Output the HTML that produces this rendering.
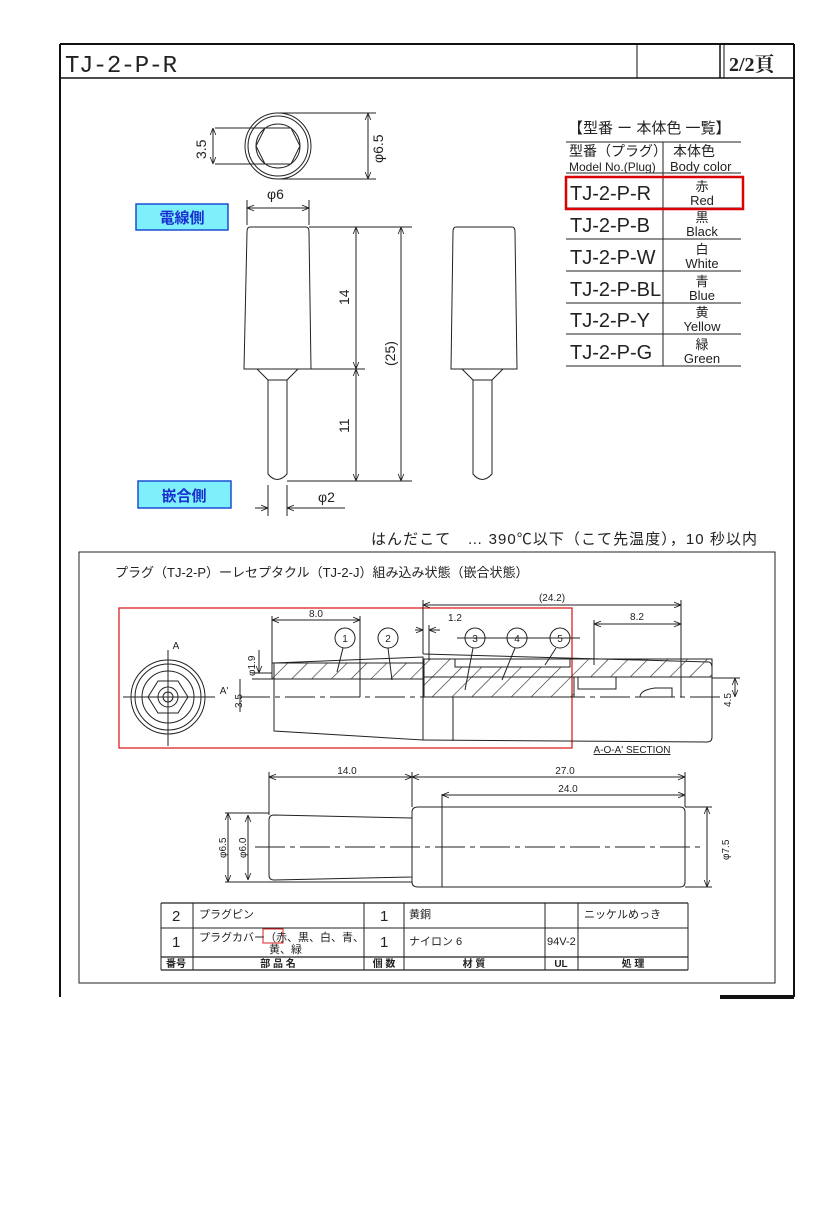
<!DOCTYPE html>
<html><head><meta charset="utf-8"><style>
html,body{margin:0;padding:0;background:#fff}
svg{display:block}
text{font-family:"Liberation Sans","Noto Sans CJK JP",sans-serif;fill:#222}
</style></head><body>
<svg width="827" height="1205" viewBox="0 0 827 1205" xmlns="http://www.w3.org/2000/svg">
<defs>
<marker id="a" viewBox="0 0 10 10" refX="10" refY="5" markerWidth="7" markerHeight="7" orient="auto-start-reverse"><path d="M0,1 L10,5 L0,9" fill="none" stroke="#222" stroke-width="1.2"/></marker>
<pattern id="h" width="14" height="14" patternUnits="userSpaceOnUse" patternTransform="rotate(45)"><line x1="0" y1="0" x2="0" y2="14" stroke="#333" stroke-width="1.3"/></pattern>
</defs>
<g stroke="#111" fill="none">
<line x1="60" y1="44" x2="794" y2="44" stroke-width="2"/>
<line x1="60" y1="44" x2="60" y2="997" stroke-width="2"/>
<line x1="794" y1="44" x2="794" y2="997" stroke-width="2"/>
<line x1="60" y1="78" x2="794" y2="78" stroke-width="1.5"/>
<line x1="637" y1="44" x2="637" y2="78"/>
<line x1="720" y1="44" x2="720" y2="78" stroke-width="1.5"/>
<line x1="724" y1="44" x2="724" y2="78"/>
<line x1="720" y1="997" x2="794" y2="997" stroke-width="4"/>
</g>
<text x="65" y="72" textLength="112" style="font-family:'Liberation Mono',monospace;font-size:24px">TJ-2-P-R</text>
<text x="729" y="71" style="font-family:'Liberation Serif','Noto Serif CJK SC',serif;font-size:20px;font-weight:bold">2/2頁</text>

<g stroke="#222" fill="none" stroke-width="1">
<circle cx="278" cy="146" r="33"/><circle cx="278" cy="146" r="30"/>
<circle cx="278" cy="146" r="22"/>
<polygon points="265,128 291,128 300,146 291,164 265,164 256,146"/>
<line x1="215" y1="128" x2="265" y2="128"/><line x1="215" y1="164" x2="265" y2="164"/>
<line x1="213" y1="128" x2="213" y2="164" marker-start="url(#a)" marker-end="url(#a)"/>
<line x1="278" y1="113" x2="376" y2="113"/><line x1="278" y1="179" x2="376" y2="179"/>
<line x1="368" y1="113" x2="368" y2="179" marker-start="url(#a)" marker-end="url(#a)"/>
<path d="M250,227 L306,227 Q309,227 309,232 L311,369 L244,369 L247,232 Q247,227 250,227Z"/>
<path d="M257,369 L268,380 L268,474 Q277,485 287,474 L287,380 L298,369"/>
<line x1="268" y1="380" x2="287" y2="380"/>
<line x1="247" y1="200" x2="247" y2="225"/><line x1="309" y1="200" x2="309" y2="225"/>
<line x1="247" y1="208" x2="309" y2="208" marker-start="url(#a)" marker-end="url(#a)"/>
<line x1="309" y1="227" x2="412" y2="227"/><line x1="311" y1="369" x2="365" y2="369"/>
<line x1="287" y1="481" x2="412" y2="481"/>
<line x1="356" y1="227" x2="356" y2="369" marker-start="url(#a)" marker-end="url(#a)"/>
<line x1="356" y1="369" x2="356" y2="481" marker-start="url(#a)" marker-end="url(#a)"/>
<line x1="401" y1="227" x2="401" y2="481" marker-start="url(#a)" marker-end="url(#a)"/>
<line x1="268" y1="485" x2="268" y2="516"/><line x1="287" y1="485" x2="287" y2="516"/>
<line x1="255" y1="508" x2="268" y2="508" marker-end="url(#a)"/><line x1="345" y1="508" x2="287" y2="508" marker-end="url(#a)"/>
<path d="M456,227 L512,227 Q515,227 515,232 L517,369 L451,369 L453,232 Q453,227 456,227Z"/>
<path d="M462,369 L473,380 L473,474 Q482,485 492,474 L492,380 L503,369"/>
<line x1="473" y1="380" x2="492" y2="380"/>
</g>
<text transform="translate(206,159) rotate(-90)" style="font-size:14px">3.5</text>
<text transform="translate(383,163) rotate(-90)" style="font-size:14px">φ6.5</text>
<text x="267" y="199" style="font-size:14px">φ6</text>
<text transform="translate(349,305) rotate(-90)" style="font-size:14px">14</text>
<text transform="translate(349,433) rotate(-90)" style="font-size:14px">11</text>
<text transform="translate(395,366) rotate(-90)" style="font-size:14px">(25)</text>
<text x="318" y="502" style="font-size:14px">φ2</text>
<rect x="136" y="204" width="92" height="26" fill="#7ef0fb" stroke="#1a4fd0" stroke-width="1.5"/>
<text x="182" y="223" text-anchor="middle" style="font-size:15px;font-weight:bold;fill:#1a2fd0">電線側</text>
<rect x="138" y="481" width="93" height="27" fill="#7ef0fb" stroke="#1a4fd0" stroke-width="1.5"/>
<text x="184" y="501" text-anchor="middle" style="font-size:15px;font-weight:bold;fill:#1a2fd0">嵌合側</text>

<text x="568" y="133" style="font-size:15px">【型番 ー 本体色 一覧】</text>
<g stroke="#222" stroke-width="1">
<line x1="566" y1="142" x2="741" y2="142"/><line x1="566" y1="173" x2="741" y2="173"/>
<line x1="566" y1="208" x2="741" y2="208"/><line x1="566" y1="239" x2="741" y2="239"/>
<line x1="566" y1="271" x2="741" y2="271"/><line x1="566" y1="303" x2="741" y2="303"/>
<line x1="566" y1="334" x2="741" y2="334"/><line x1="566" y1="366" x2="741" y2="366"/>
<line x1="663" y1="142" x2="663" y2="366"/>
</g>
<rect x="566" y="177" width="177" height="32" fill="none" stroke="#d00" stroke-width="2.5"/>
<g style="font-size:14px">
<text x="569" y="156">型番（プラグ）</text><text x="673" y="156">本体色</text>
<text x="569" y="171" style="font-size:12px">Model No.(Plug)</text><text x="670" y="171" style="font-size:13px">Body color</text>
</g>
<g style="font-size:20px">
<text x="570" y="200">TJ-2-P-R</text><text x="570" y="232">TJ-2-P-B</text><text x="570" y="264">TJ-2-P-W</text>
<text x="570" y="296">TJ-2-P-BL</text><text x="570" y="327">TJ-2-P-Y</text><text x="570" y="359">TJ-2-P-G</text>
</g>
<g style="font-size:13px" text-anchor="middle">
<text x="702" y="191">赤</text><text x="702" y="205">Red</text>
<text x="702" y="222">黒</text><text x="702" y="236">Black</text>
<text x="702" y="254">白</text><text x="702" y="268">White</text>
<text x="702" y="286">青</text><text x="702" y="300">Blue</text>
<text x="702" y="317">黄</text><text x="702" y="331">Yellow</text>
<text x="702" y="349">緑</text><text x="702" y="363">Green</text>
</g>
<text x="371" y="544" textLength="386" style="font-size:15px">はんだこて　… 390℃以下（こて先温度），10 秒以内</text>

<rect x="79" y="552" width="696" height="431" fill="none" stroke="#222" stroke-width="1"/>
<text x="115" y="577" style="font-size:13px">プラグ（TJ-2-P）ーレセプタクル（TJ-2-J）組み込み状態（嵌合状態）</text>
<rect x="119" y="608" width="453" height="140" fill="none" stroke="#d22" stroke-width="1.3"/>
<g stroke="#222" fill="none" stroke-width="1">
<circle cx="168" cy="697" r="37"/><circle cx="168" cy="697" r="33"/><circle cx="168" cy="697" r="26"/>
<polygon points="158,681 178,681 188,697 178,713 158,713 148,697"/>
<circle cx="168" cy="697" r="10"/><circle cx="168" cy="697" r="5"/>
<line x1="168" y1="650" x2="168" y2="746"/><line x1="123" y1="697" x2="215" y2="697"/>
<path d="M274,663 L423,657 L423,740 L274,731 Z"/>
<path d="M423,654 L709,662 Q712,663 712,668 L712,737 Q712,742 707,742 L423,740"/>
<rect x="272" y="663" width="152" height="16" fill="url(#h)" stroke="#222"/>
<rect x="424" y="659" width="288" height="18" fill="url(#h)" stroke="#222"/>
<rect x="424" y="677" width="150" height="20" fill="url(#h)" stroke="#222"/>
<rect x="455" y="659" width="115" height="8" fill="#fff" stroke="#222"/>
<rect x="578" y="677" width="38" height="12" fill="#fff" stroke="#222"/>
<path d="M655,688 Q640,690 640,697 L672,697 L672,688 Z"/>
<line x1="240" y1="697" x2="720" y2="697" stroke-dasharray="30,5,5,5"/>
<line x1="453" y1="697" x2="453" y2="741"/>
<line x1="272" y1="616" x2="272" y2="663"/><line x1="360" y1="616" x2="360" y2="697"/>
<line x1="272" y1="620" x2="360" y2="620" marker-start="url(#a)" marker-end="url(#a)"/>
<line x1="423" y1="600" x2="423" y2="654"/><line x1="681" y1="600" x2="681" y2="697"/>
<line x1="423" y1="605" x2="681" y2="605" marker-start="url(#a)" marker-end="url(#a)"/>
<line x1="594" y1="620" x2="594" y2="665"/><line x1="594" y1="624" x2="681" y2="624" marker-start="url(#a)" marker-end="url(#a)"/>
<line x1="415" y1="630" x2="423" y2="630" marker-end="url(#a)"/><line x1="440" y1="630" x2="429" y2="630" marker-end="url(#a)"/>
<line x1="429" y1="625" x2="429" y2="660"/>
<line x1="252" y1="673" x2="272" y2="673"/><line x1="252" y1="679" x2="272" y2="679"/>
<line x1="259" y1="650" x2="259" y2="673" marker-end="url(#a)"/>
<line x1="240" y1="679" x2="240" y2="712"/>
<line x1="712" y1="678" x2="740" y2="678"/><line x1="735" y1="678" x2="735" y2="697" marker-start="url(#a)" marker-end="url(#a)"/>
<circle cx="345" cy="638" r="10"/><circle cx="388" cy="638" r="10"/>
<circle cx="475" cy="638" r="10"/><circle cx="517" cy="638" r="10"/><circle cx="560" cy="638" r="10"/>
<line x1="457" y1="638" x2="580" y2="638"/>
<line x1="343" y1="648" x2="337" y2="672"/><line x1="388" y1="648" x2="392" y2="680"/>
<line x1="473" y1="648" x2="465" y2="690"/><line x1="515" y1="648" x2="502" y2="680"/><line x1="556" y1="648" x2="545" y2="665"/>
</g>
<g style="font-size:10px" text-anchor="middle">
<text x="316" y="617">8.0</text><text x="552" y="601">(24.2)</text><text x="455" y="621">1.2</text><text x="637" y="620">8.2</text>
<text x="345" y="642">1</text><text x="388" y="642">2</text><text x="475" y="642">3</text><text x="517" y="642">4</text><text x="560" y="642">5</text>
<text x="176" y="649">A</text><text x="224" y="694">A'</text>
<text x="632" y="753" style="text-decoration:underline">A-O-A' SECTION</text>
</g>
<text transform="translate(255,676) rotate(-90)" style="font-size:10px">φ1.9</text>
<text transform="translate(242,708) rotate(-90)" style="font-size:10px">3.5</text>
<text transform="translate(731,707) rotate(-90)" style="font-size:10px">4.5</text>

<g stroke="#222" fill="none" stroke-width="1">
<path d="M274,815 L412,818 L412,877 L274,880 Q269,880 269,875 L269,820 Q269,815 274,815Z"/>
<path d="M418,807 L680,807 Q685,807 685,812 L685,882 Q685,887 680,887 L418,887 Q412,887 412,882 L412,812 Q412,807 418,807Z"/>
<line x1="442" y1="794" x2="442" y2="887"/>
<line x1="255" y1="847" x2="705" y2="847" stroke-dasharray="30,5,5,5"/>
<line x1="269" y1="772" x2="269" y2="815"/><line x1="412" y1="772" x2="412" y2="807"/><line x1="685" y1="772" x2="685" y2="807"/>
<line x1="269" y1="777" x2="412" y2="777" marker-start="url(#a)" marker-end="url(#a)"/>
<line x1="412" y1="777" x2="685" y2="777" marker-start="url(#a)" marker-end="url(#a)"/>
<line x1="442" y1="795" x2="685" y2="795" marker-start="url(#a)" marker-end="url(#a)"/>
<line x1="225" y1="813" x2="269" y2="813"/><line x1="225" y1="882" x2="412" y2="882"/>
<line x1="228" y1="813" x2="228" y2="882" marker-start="url(#a)" marker-end="url(#a)"/>
<line x1="248" y1="815" x2="248" y2="880" marker-start="url(#a)" marker-end="url(#a)"/>
<line x1="685" y1="807" x2="712" y2="807"/><line x1="685" y1="887" x2="712" y2="887"/>
<line x1="707" y1="807" x2="707" y2="887" marker-start="url(#a)" marker-end="url(#a)"/>
</g>
<g style="font-size:10px" text-anchor="middle"><text x="347" y="774">14.0</text><text x="565" y="774">27.0</text><text x="568" y="792">24.0</text></g>
<text transform="translate(226,858) rotate(-90)" style="font-size:10px">φ6.5</text>
<text transform="translate(246,858) rotate(-90)" style="font-size:10px">φ6.0</text>
<text transform="translate(729,860) rotate(-90)" style="font-size:10px">φ7.5</text>

<g stroke="#222" fill="none">
<line x1="161" y1="903" x2="688" y2="903" stroke-width="1.2"/>
<line x1="161" y1="928" x2="688" y2="928"/>
<line x1="161" y1="957" x2="688" y2="957" stroke-width="1.2"/>
<line x1="161" y1="970" x2="688" y2="970" stroke-width="1.2"/>
<line x1="161" y1="903" x2="161" y2="970"/><line x1="193" y1="903" x2="193" y2="970"/>
<line x1="364" y1="903" x2="364" y2="970"/><line x1="404" y1="903" x2="404" y2="970"/>
<line x1="545" y1="903" x2="545" y2="970"/><line x1="578" y1="903" x2="578" y2="970"/>
<line x1="688" y1="903" x2="688" y2="970"/>
</g>
<rect x="263" y="929" width="20" height="14" fill="none" stroke="#d22" stroke-width="1"/>
<g style="font-size:11px">
<text x="172" y="921" style="font-size:15px">2</text><text x="199" y="918">プラグピン</text>
<text x="380" y="921" style="font-size:15px">1</text><text x="409" y="918">黄銅</text><text x="584" y="918">ニッケルめっき</text>
<text x="172" y="947" style="font-size:15px">1</text><text x="199" y="941">プラグカバー（赤、黒、白、青、</text>
<text x="269" y="953">黄、緑</text>
<text x="380" y="947" style="font-size:15px">1</text><text x="409" y="945">ナイロン 6</text><text x="547" y="945">94V-2</text>
<text x="166" y="967" style="font-size:10px;font-weight:bold">番号</text><text x="278" y="967" text-anchor="middle" style="font-size:10px;font-weight:bold">部 品 名</text>
<text x="384" y="967" text-anchor="middle" style="font-size:10px;font-weight:bold">個 数</text><text x="474" y="967" text-anchor="middle" style="font-size:10px;font-weight:bold">材 質</text>
<text x="561" y="967" text-anchor="middle" style="font-size:10px;font-weight:bold">UL</text><text x="633" y="967" text-anchor="middle" style="font-size:10px;font-weight:bold">処 理</text>
</g>
</svg>
</body></html>
